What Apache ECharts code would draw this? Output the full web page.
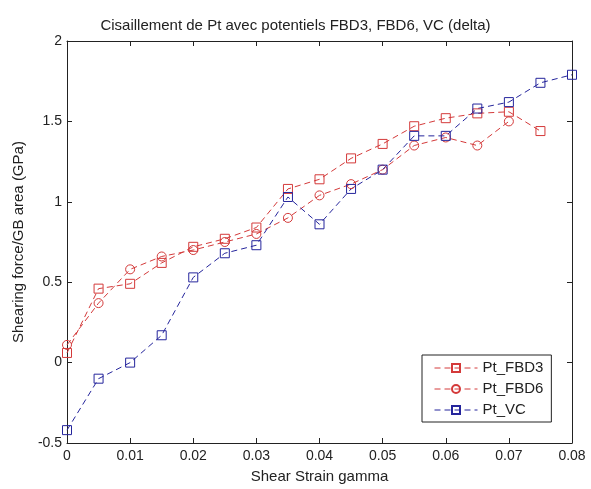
<!DOCTYPE html>
<html>
<head>
<meta charset="utf-8">
<script src="https://cdn.jsdelivr.net/npm/echarts@6/dist/echarts.min.js"></script>
<style>
  html, body { margin: 0; padding: 0; background: #fff; }
  #chart { width: 591px; height: 489px; }
</style>
</head>
<body>
<div id="chart"></div>
<script>
// Shear strain values (gamma)
const strain = [0, 0.005, 0.01, 0.015, 0.02, 0.025, 0.03, 0.035, 0.04, 0.045,
                0.05, 0.055, 0.06, 0.065, 0.07, 0.075, 0.08];

// Shearing force / GB area (GPa) for each potential
const ptFBD3 = [0.06, 0.46, 0.49, 0.62, 0.72, 0.77, 0.84, 1.08, 1.14, 1.27,
                1.36, 1.47, 1.52, 1.55, 1.56, 1.44];
const ptFBD6 = [0.11, 0.37, 0.58, 0.66, 0.70, 0.75, 0.80, 0.90, 1.04, 1.11,
                1.20, 1.35, 1.40, 1.35, 1.50];
const ptVC   = [-0.42, -0.10, 0.00, 0.17, 0.53, 0.68, 0.73, 1.03, 0.86, 1.08,
                1.20, 1.41, 1.41, 1.58, 1.62, 1.74, 1.79];

const seriesNames = ['Pt_FBD3', 'Pt_FBD6', 'Pt_VC'];

const RED = '#d43a3a';
const BLUE = '#25259c';
const INK = '#222';
const FONT = 'Liberation Sans, Arial, sans-serif';

function pairs(values) {
  return values.map((v, i) => [strain[i], v]);
}

function lineSeries(name, values, color, symbol) {
  return {
    name: name,
    type: 'line',
    xAxisIndex: 0,
    yAxisIndex: 0,
    data: pairs(values),
    symbol: symbol,
    symbolSize: 9,
    showSymbol: true,
    animation: false,
    lineStyle: { color: color, width: 1, type: [6, 4] },
    itemStyle: { color: 'rgba(255,255,255,0)', borderColor: color, borderWidth: 1 },
    emphasis: { disabled: true }
  };
}

const axisText = { color: INK, fontSize: 14, fontFamily: FONT };
const nameText = { color: INK, fontSize: 15, fontFamily: FONT };
const tickStyle = { show: true, inside: true, length: 5, lineStyle: { color: INK, width: 1 } };
const lineAxis = { show: true, onZero: false, lineStyle: { color: INK, width: 1 } };

const chart = echarts.init(document.getElementById('chart'), null, { renderer: 'canvas' });
chart.setOption({
  backgroundColor: '#fff',
  animation: false,
  title: {
    text: 'Cisaillement de Pt avec potentiels FBD3, FBD6, VC (delta)',
    left: 'center',
    top: 13,
    textStyle: { fontSize: 15, fontWeight: 'normal', color: INK, fontFamily: FONT }
  },
  grid: { left: 67, right: 19, top: 41, bottom: 44, containLabel: false },
  xAxis: [{
    type: 'value', min: 0, max: 0.08, interval: 0.01, position: 'bottom',
    name: 'Shear Strain gamma', nameLocation: 'middle', nameGap: 26,
    nameTextStyle: nameText,
    axisLine: lineAxis, axisTick: tickStyle, splitLine: { show: false },
    axisLabel: Object.assign({ margin: 6, formatter: v => String(+v.toFixed(2)) }, axisText)
  }, {
    type: 'value', min: 0, max: 0.08, interval: 0.01, position: 'top',
    axisLine: lineAxis, axisTick: tickStyle, splitLine: { show: false },
    axisLabel: { show: false }
  }],
  yAxis: [{
    type: 'value', min: -0.5, max: 2, interval: 0.5, position: 'left',
    name: 'Shearing force/GB area (GPa)', nameLocation: 'middle', nameGap: 41,
    nameTextStyle: nameText,
    axisLine: lineAxis, axisTick: tickStyle, splitLine: { show: false },
    axisLabel: Object.assign({ margin: 5, formatter: v => String(+v.toFixed(1)) }, axisText)
  }, {
    type: 'value', min: -0.5, max: 2, interval: 0.5, position: 'right',
    axisLine: lineAxis, axisTick: tickStyle, splitLine: { show: false },
    axisLabel: { show: false }
  }],
  legend: {
    data: seriesNames,
    orient: 'vertical',
    left: 422,
    top: 355,
    itemWidth: 43,
    itemHeight: 10,
    itemGap: 5,
    padding: [5, 8, 4, 12],
    backgroundColor: '#fff',
    borderColor: INK,
    borderWidth: 1,
    borderRadius: 0,
    lineStyle: { width: 1 },
    textStyle: { color: INK, fontSize: 15, fontFamily: FONT, lineHeight: 16 },
    selectedMode: false
  },
  series: [
    lineSeries(seriesNames[0], ptFBD3, RED, 'rect'),
    lineSeries(seriesNames[1], ptFBD6, RED, 'circle'),
    lineSeries(seriesNames[2], ptVC, BLUE, 'rect')
  ]
});
</script>
</body>
</html>
